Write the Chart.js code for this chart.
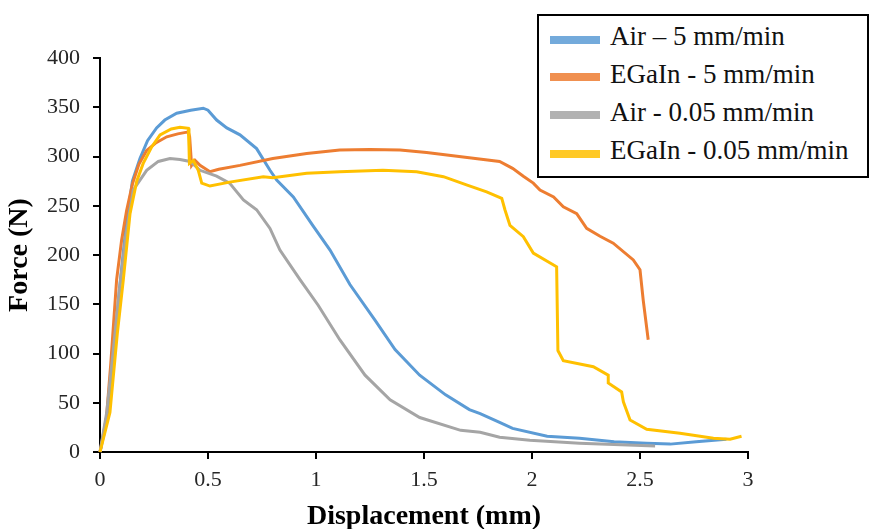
<!DOCTYPE html>
<html>
<head>
<meta charset="utf-8">
<script src="https://cdn.jsdelivr.net/npm/chart.js@4"></script>
<style>
  html, body { margin: 0; padding: 0; background: #fff; }
  #wrap { position: relative; width: 872px; height: 529px; }
  #legend {
    position: absolute; left: 537px; top: 14px; width: 328px; height: 160px;
    border: 2px solid #000; background: #fff; box-sizing: content-box;
    font-family: "Liberation Serif", "Times New Roman", serif; font-size: 27px; color: #111;
  }
  .row { position: absolute; left: 0; height: 30px; display: flex; align-items: center; white-space: nowrap; }
  .sw { width: 50px; height: 8px; margin-left: 11px; margin-right: 10px; margin-top: 6px; }
</style>
</head>
<body>
<div id="wrap">
  <canvas id="c" width="872" height="529"></canvas>
  <div id="legend"></div>
</div>
<script>
// ---- Data (displacement mm, force N) ----
const seriesNames = ["Air \u2013 5 mm/min", "EGaIn - 5 mm/min", "Air - 0.05 mm/min", "EGaIn - 0.05 mm/min"];
const seriesColors = ["#5B9BD5", "#ED7D31", "#A5A5A5", "#FFC000"];

const airFastX = [0,0.03,0.06,0.09,0.12,0.15,0.185,0.22,0.262,0.3,0.355,0.42,0.478,0.5,0.54,0.587,0.648,0.725,0.787,0.818,0.895,0.988,1.065,1.157,1.273,1.366,1.48,1.6,1.71,1.76,1.85,1.91,2.07,2.22,2.38,2.53,2.64,2.76,2.9];
const airFastY = [0,30,90,165,228,275,298,316,329,337,344,347,349,347,337,329,322,308,286,276,259,229,205,170,134,104,78,58,43,39,30,24,16,14,10.5,9,8,10.5,13];

const egainFastX = [0,0.03,0.05,0.077,0.1,0.123,0.15,0.18,0.216,0.26,0.309,0.36,0.409,0.415,0.424,0.44,0.463,0.509,0.55,0.648,0.8,0.957,1.11,1.25,1.389,1.512,1.7,1.85,1.91,1.96,2.006,2.037,2.1,2.145,2.207,2.253,2.315,2.376,2.469,2.5,2.515,2.538];
const egainFastY = [0,35,90,175,215,245,272,292,306,314,320,323,325,320,291,296,291,284.6,287,291,298,303,306.6,307,306.6,304,299,295,288,280,273,266,259,249,242,227,219,212,195,185,154,114];

const airSlowX = [0,0.031,0.06,0.09,0.12,0.154,0.216,0.27,0.324,0.37,0.417,0.463,0.54,0.6,0.664,0.725,0.787,0.833,0.926,1.01,1.11,1.227,1.343,1.48,1.67,1.76,1.85,1.99,2.22,2.57];
const airSlowY = [0,40,100,165,220,266,286,295,298,297,295,286,280,273,256,246,227,205,175,149,114,78,53,35,22,20,15,12,9,6];

const egainSlowX = [0,0.046,0.08,0.108,0.139,0.17,0.2,0.24,0.278,0.33,0.37,0.409,0.412,0.414,0.432,0.455,0.471,0.509,0.6,0.756,0.8,0.957,1.11,1.31,1.466,1.59,1.7,1.79,1.86,1.875,1.898,1.96,2.006,2.114,2.12,2.145,2.284,2.353,2.353,2.415,2.423,2.454,2.531,2.685,2.84,2.917,2.97];
const egainSlowY = [0,40,120,175,242,275,293,310,322,328,329.6,328.6,310,293,296,286,273,270,274,279.5,278.5,283,284.6,286,284.6,279.5,271,264,257.5,245.7,230,218.6,202,188,103,92.7,86.6,78,70,61,51,32.5,23,19,14,13,16];

const xTicks = [0, 0.5, 1, 1.5, 2, 2.5, 3];
const yTicks = [0, 50, 100, 150, 200, 250, 300, 350, 400];

const allX = [airFastX, egainFastX, airSlowX, egainSlowX];
const allY = [airFastY, egainFastY, airSlowY, egainSlowY];

const datasets = allX.map((xs, i) => ({
  label: seriesNames[i],
  data: xs.map((x, j) => ({ x: x, y: allY[i][j] })),
  borderColor: seriesColors[i],
  backgroundColor: seriesColors[i],
  borderWidth: 3,
  pointRadius: 0,
  tension: 0,
  fill: false,
  clip: 6,
  order: 4 - i
}));

// legend (HTML)
const lg = document.getElementById('legend');
const rowTops = [5.5, 43, 81, 119.5];
seriesNames.forEach((n, i) => {
  const r = document.createElement('div');
  r.className = 'row';
  r.style.top = rowTops[i] + 'px';
  const s = document.createElement('div');
  s.className = 'sw';
  s.style.background = seriesColors[i];
  s.style.opacity = '0.85';
  const t = document.createElement('span');
  t.textContent = n;
  r.appendChild(s); r.appendChild(t);
  lg.appendChild(r);
});

const serif = "'Liberation Serif', 'Times New Roman', serif";

new Chart(document.getElementById('c'), {
  type: 'line',
  data: { datasets: datasets },
  options: {
    responsive: false,
    animation: false,
    devicePixelRatio: 1,
    layout: { padding: { left: 0, right: 124, top: 58, bottom: 0 } },
    plugins: { legend: { display: false }, tooltip: { enabled: false } },
    scales: {
      x: {
        type: 'linear', min: 0, max: 3,
        afterFit: s => { s.height = 77; },
        afterBuildTicks: s => { s.ticks = xTicks.map(v => ({ value: v })); },
        ticks: { font: { family: serif, size: 22 }, color: '#262626', padding: 8, maxRotation: 0,
                 callback: v => String(v) },
        grid: { drawOnChartArea: false, drawTicks: true, tickLength: 7, color: '#000', lineWidth: 2 },
        border: { display: true, color: '#000', width: 2 },
        title: { display: true, text: 'Displacement (mm)', color: '#000',
                 font: { family: serif, size: 28, weight: 'bold', lineHeight: 0.86 },
                 padding: { top: 0, bottom: 0 } }
      },
      y: {
        type: 'linear', min: 0, max: 400,
        afterFit: s => { s.width = 100; },
        afterBuildTicks: s => { s.ticks = yTicks.map(v => ({ value: v })); },
        ticks: { font: { family: serif, size: 22 }, color: '#262626', padding: 13 },
        grid: { drawOnChartArea: false, drawTicks: true, tickLength: 7, color: '#000', lineWidth: 2 },
        border: { display: true, color: '#000', width: 2 },
        title: { display: true, text: 'Force (N)', color: '#000',
                 font: { family: serif, size: 28, weight: 'bold', lineHeight: 0.86 },
                 padding: { top: 8, bottom: 0 } }
      }
    }
  }
});
</script>
</body>
</html>
